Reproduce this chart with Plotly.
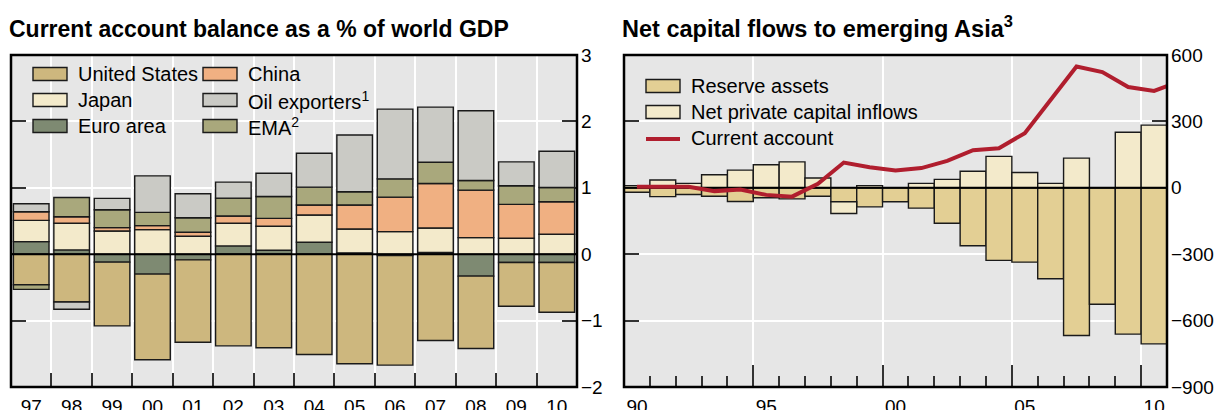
import plotly.graph_objects as go

# ---- data: left panel, current account as % of world GDP ----
years_left = list(range(1997, 2011))
labels_left = ["97", "98", "99", "00", "01", "02", "03", "04", "05", "06", "07", "08", "09", "10"]
euro_area = [0.19, 0.065, -0.12, -0.30, -0.085, 0.125, 0.06, 0.18, 0.02, -0.02, 0.025, -0.33, -0.125, -0.125]
united_states = [-0.46, -0.72, -0.96, -1.29, -1.24, -1.38, -1.41, -1.51, -1.65, -1.65, -1.30, -1.09, -0.66, -0.75]
japan = [0.32, 0.40, 0.35, 0.37, 0.27, 0.34, 0.36, 0.41, 0.36, 0.34, 0.37, 0.25, 0.24, 0.30]
china = [0.13, 0.10, 0.05, 0.06, 0.06, 0.11, 0.12, 0.15, 0.36, 0.52, 0.67, 0.715, 0.51, 0.49]
ema = [-0.07, 0.29, 0.27, 0.20, 0.22, 0.27, 0.33, 0.27, 0.20, 0.275, 0.32, 0.145, 0.28, 0.215]
oil_exporters = [0.12, -0.11, 0.17, 0.55, 0.36, 0.24, 0.35, 0.51, 0.855, 1.05, 0.83, 1.05, 0.36, 0.545]
left_ticks = [-2, -1, 0, 1, 2, 3]

# ---- data: right panel, net capital flows to emerging Asia (USD bn) ----
years_right = list(range(1990, 2011))
reserve_assets = [-20, -40, -30, -38, -62, -45, -50, -38, -63, -86, -63, -92, -160, -262,
                  -328, -336, -411, -667, -526, -661, -705]
net_private_inflows = [10, 35, 20, 59, 80, 104, 117, 44, -53, 10, 0, 20, 38, 75,
                       142, 69, 20, 134, 0, 251, 283]
ca_years = list(range(1990, 2012))
current_account = [5, 5, 5, -15, -8, -32, -40, 18, 114, 93, 78, 89, 122, 170,
                   179, 247, 398, 548, 523, 455, 438, 480]
right_ticks = [-900, -600, -300, 0, 300, 600]
right_xticks = [1989.5, 1994.5, 1999.5, 2004.5, 2009.5]
right_xlabels = ["90", "95", "00", "05", "10"]

# ---- style ----
W, H = 1219, 410
MT, MB = 55, 23
FONT = "Liberation Sans, Arial, Helvetica, sans-serif"
OUTLINE = dict(color="#1a1a1a", width=1.4)
BG = "#e6e6e6"
TICKC = "#333333"
TICK_SIZE = 19
LEGEND_SIZE = 20

COLORS = {
    "United States": "#cdb77e",
    "China": "#f0b082",
    "Japan": "#f3eacb",
    "Oil exporters": "#cacac5",
    "Euro area": "#7e8a72",
    "EMA": "#a9a87c",
    "Reserve assets": "#e3cf94",
    "Net private capital inflows": "#f3eacb",
    "Current account": "#b01e2e",
}


def minus(v):
    return str(v).replace("-", "\u2212")


def px(x):
    return x / W


def py(y):
    return (H - MB - y) / (H - MT - MB)


fig = go.Figure()

# left panel: stacking order decides which block sits next to zero
for name, vals in [("Euro area", euro_area), ("United States", united_states),
                   ("Japan", japan), ("China", china), ("EMA", ema),
                   ("Oil exporters", oil_exporters)]:
    fig.add_trace(go.Bar(x=years_left, y=vals, name=name, width=0.88,
                         marker=dict(color=COLORS[name], line=OUTLINE),
                         xaxis="x", yaxis="y", showlegend=False))
fig.add_trace(go.Scatter(x=[1996.5, 2010.5], y=[0, 0], mode="lines",
                         line=dict(color="black", width=2), xaxis="x", yaxis="y",
                         showlegend=False, hoverinfo="skip"))

# right panel
for name, vals in [("Reserve assets", reserve_assets),
                   ("Net private capital inflows", net_private_inflows)]:
    fig.add_trace(go.Bar(x=years_right, y=vals, name=name, width=1.0,
                         marker=dict(color=COLORS[name], line=OUTLINE),
                         xaxis="x2", yaxis="y2", showlegend=False))
fig.add_trace(go.Scatter(x=[1989.5, 2010.5], y=[0, 0], mode="lines",
                         line=dict(color="black", width=2), xaxis="x2", yaxis="y2",
                         showlegend=False, hoverinfo="skip"))
fig.add_trace(go.Scatter(x=ca_years, y=current_account, mode="lines", name="Current account",
                         line=dict(color=COLORS["Current account"], width=4),
                         xaxis="x2", yaxis="y2", showlegend=False))

common_y = dict(side="right", ticks="inside", ticklen=15, tickwidth=1.5, tickcolor=TICKC,
                mirror="ticks", showline=False, showgrid=True, gridcolor="white",
                gridwidth=1.5, zeroline=False, layer="below traces", automargin=False,
                ticklabelstandoff=3,
                tickfont=dict(size=TICK_SIZE, color="black"), fixedrange=True)

fig.update_layout(
    width=W, height=H,
    margin=dict(l=0, r=0, t=MT, b=MB, autoexpand=False),
    paper_bgcolor="white", plot_bgcolor=BG,
    font=dict(family=FONT, color="black"),
    barmode="relative",
    showlegend=False,
    xaxis=dict(domain=[px(11), px(577)], range=[1996.5, 2010.5],
               tickvals=years_left, ticktext=labels_left, ticks="inside", ticklen=0,
               showgrid=False, zeroline=False, layer="below traces", automargin=False,
               ticklabelstandoff=6,
               tickfont=dict(size=TICK_SIZE, color="black"), fixedrange=True,
               minor=dict(tick0=1996.5, dtick=1, ticks="inside", ticklen=14,
                          tickwidth=1.5, tickcolor=TICKC, showgrid=True,
                          gridcolor="white", gridwidth=1.5)),
    yaxis=dict(anchor="x", range=[-2, 3], tickvals=left_ticks,
               ticktext=[minus(v) for v in left_ticks], **common_y),
    xaxis2=dict(domain=[px(624), px(1167)], anchor="y2", range=[1989.5, 2010.5],
                tickvals=right_xticks, ticktext=right_xlabels, ticks="inside", ticklen=22,
                tickwidth=1.5, tickcolor=TICKC, ticklabelshift=13, ticklabelstandoff=6,
                showgrid=True, gridcolor="white", gridwidth=1.5, zeroline=False,
                layer="below traces", automargin=False,
                tickfont=dict(size=TICK_SIZE, color="black"), fixedrange=True,
                minor=dict(tick0=1989.5, dtick=1, ticks="inside", ticklen=11,
                           tickwidth=1.5, tickcolor=TICKC, showgrid=False)),
    yaxis2=dict(anchor="x2", range=[-900, 600], tickvals=right_ticks,
                ticktext=[minus(v) for v in right_ticks], **common_y),
)

# frames
for xr, yr in [("x domain", "y domain"), ("x2 domain", "y2 domain")]:
    fig.add_shape(type="rect", xref=xr, yref=yr, x0=0, x1=1, y0=0, y1=1,
                  line=dict(color="black", width=2.5), layer="above")

# titles
fig.add_annotation(text="<b>Current account balance as a % of world GDP</b>",
                   xref="paper", yref="paper", x=px(7), y=py(29), xanchor="left",
                   yanchor="middle", showarrow=False, font=dict(size=23))
fig.add_annotation(text="<b>Net capital flows to emerging Asia<sup>3</sup></b>",
                   xref="paper", yref="paper", x=px(620), y=py(27), xanchor="left",
                   yanchor="middle", showarrow=False, font=dict(size=23.5))


# hand-made legends (wide swatches like the original)
def legend_box(x0, yc, name, label):
    fig.add_shape(type="rect", xref="paper", yref="paper",
                  x0=px(x0), x1=px(x0 + 34), y0=py(yc + 6.5), y1=py(yc - 6.5),
                  fillcolor=COLORS[name], line=dict(color="#1a1a1a", width=1.4))
    fig.add_annotation(text=label, xref="paper", yref="paper", x=px(x0 + 43), y=py(yc),
                       xanchor="left", yanchor="middle", showarrow=False,
                       font=dict(size=LEGEND_SIZE))


legend_box(33, 74, "United States", "United States")
legend_box(33, 100, "Japan", "Japan")
legend_box(33, 126, "Euro area", "Euro area")
legend_box(203, 74, "China", "China")
legend_box(203, 100, "Oil exporters", "Oil exporters<sup>1</sup>")
legend_box(203, 126, "EMA", "EMA<sup>2</sup>")
legend_box(646, 86, "Reserve assets", "Reserve assets")
legend_box(646, 112, "Net private capital inflows", "Net private capital inflows")
fig.add_shape(type="line", xref="paper", yref="paper", x0=px(646), x1=px(680),
              y0=py(139), y1=py(139), line=dict(color=COLORS["Current account"], width=4))
fig.add_annotation(text="Current account", xref="paper", yref="paper", x=px(689), y=py(138),
                   xanchor="left", yanchor="middle", showarrow=False,
                   font=dict(size=LEGEND_SIZE))

# the page's default body margin would offset the figure by 8px
fig.write_html("out.html", config={"displayModeBar": False},
               post_script="document.body.style.margin='0';")
